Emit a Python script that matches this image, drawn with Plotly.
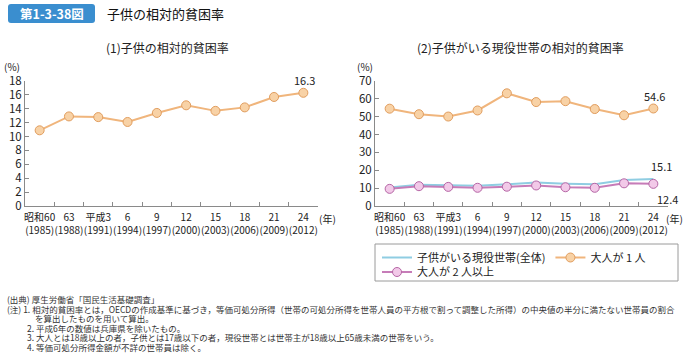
import plotly.graph_objects as go

W, H = 683, 357
FONT = "Noto Sans CJK JP"

# ---- data ----
era_labels = ["昭和60", "63", "平成3", "6", "9", "12", "15", "18", "21", "24"]
years = ["1985", "1988", "1991", "1994", "1997", "2000", "2003", "2006", "2009", "2012"]
child_poverty = [10.9, 12.9, 12.8, 12.1, 13.4, 14.5, 13.7, 14.2, 15.7, 16.3]
households_total = [10.3, 11.9, 11.6, 11.3, 12.2, 13.1, 12.5, 12.2, 14.6, 15.1]
one_adult = [54.5, 51.4, 50.1, 53.5, 63.1, 58.2, 58.7, 54.3, 50.8, 54.6]
two_plus_adults = [9.6, 11.1, 10.7, 10.2, 10.8, 11.5, 10.5, 10.2, 12.7, 12.4]

cats = [f"{e}<br>({y})" for e, y in zip(era_labels, years)]


def fx(px):
    return px / W


def fy(py):
    return 1 - py / H


ORANGE_LINE = "#f0b57c"
ORANGE_FILL = "#f8d2a6"
ORANGE_EDGE = "#e19d5e"
PINK_LINE = "#c67cb8"
PINK_FILL = "#f2c9e8"
PINK_EDGE = "#b565a5"
BLUE_LINE = "#8fcde2"
AXIS = "#8a8a8a"

fig = go.Figure()

fig.add_trace(go.Scatter(
    x=cats, y=child_poverty, mode="lines+markers", xaxis="x", yaxis="y",
    line=dict(color=ORANGE_LINE, width=2),
    marker=dict(size=9, color=ORANGE_FILL, line=dict(color=ORANGE_EDGE, width=1)),
    showlegend=False, name="子供の相対的貧困率"))

fig.add_trace(go.Scatter(
    x=cats, y=households_total, mode="lines", xaxis="x2", yaxis="y2",
    line=dict(color=BLUE_LINE, width=2), name="子供がいる現役世帯(全体)",
    legend="legend"))
fig.add_trace(go.Scatter(
    x=cats, y=one_adult, mode="lines+markers", xaxis="x2", yaxis="y2",
    line=dict(color=ORANGE_LINE, width=2),
    marker=dict(size=9, color=ORANGE_FILL, line=dict(color=ORANGE_EDGE, width=1)),
    name="大人が 1 人", legend="legend"))
fig.add_trace(go.Scatter(
    x=cats, y=two_plus_adults, mode="lines+markers", xaxis="x2", yaxis="y2",
    line=dict(color=PINK_LINE, width=2),
    marker=dict(size=9, color=PINK_FILL, line=dict(color=PINK_EDGE, width=1)),
    name="大人が 2 人以上", legend="legend2"))

xcommon = dict(type="category", range=[-0.5, 9.5], tickson="boundaries",
               ticks="inside", ticklen=4, tickcolor=AXIS, showline=True,
               linecolor=AXIS, linewidth=1, showgrid=False, tickangle=0,
               automargin=False, ticklabelstandoff=2,
               tickfont=dict(size=10, color="#222"), fixedrange=True)
ycommon = dict(ticks="inside", ticklen=4, tickcolor=AXIS, showline=True,
               linecolor=AXIS, linewidth=1, showgrid=False, zeroline=False,
               automargin=False,
               tickfont=dict(size=11.5, color="#222"), fixedrange=True)

legend_common = dict(orientation="h", xanchor="left", yanchor="top",
                     font=dict(size=11, color="#222", family=FONT),
                     bgcolor="rgba(0,0,0,0)", borderwidth=0, itemwidth=30)

ydom = [fy(206), fy(81)]
fig.update_layout(
    width=W, height=H, margin=dict(l=0, r=0, t=0, b=0, autoexpand=False),
    paper_bgcolor="white", plot_bgcolor="white",
    font=dict(family=FONT, color="#222"),
    xaxis=dict(domain=[fx(25), fx(318)], anchor="y", **xcommon),
    yaxis=dict(domain=ydom, anchor="x", range=[0, 18], dtick=2, **ycommon),
    xaxis2=dict(domain=[fx(375), fx(668)], anchor="y2", **xcommon),
    yaxis2=dict(domain=ydom, anchor="x2", range=[0, 70], dtick=10, **ycommon),
    legend=dict(x=fx(377), y=fy(243), **legend_common),
    legend2=dict(x=fx(377), y=fy(257.5), **legend_common),
    showlegend=True,
)

# header badge (rounded rectangle)
x0, x1, y0, y1, r = 8, 95, 4, 23, 3
path = (f"M {fx(x0 + r)},{fy(y0)} L {fx(x1 - r)},{fy(y0)} Q {fx(x1)},{fy(y0)} {fx(x1)},{fy(y0 + r)} "
        f"L {fx(x1)},{fy(y1 - r)} Q {fx(x1)},{fy(y1)} {fx(x1 - r)},{fy(y1)} "
        f"L {fx(x0 + r)},{fy(y1)} Q {fx(x0)},{fy(y1)} {fx(x0)},{fy(y1 - r)} "
        f"L {fx(x0)},{fy(y0 + r)} Q {fx(x0)},{fy(y0)} {fx(x0 + r)},{fy(y0)} Z")
shapes = [
    dict(type="path", xref="paper", yref="paper", path=path,
         fillcolor="#3a8ecf", line=dict(width=0), layer="below"),
    dict(type="rect", xref="paper", yref="paper", x0=fx(375), x1=fx(678),
         y0=fy(281), y1=fy(244), line=dict(color="#9a9a9a", width=1)),
]
fig.update_layout(shapes=shapes)

ann = []


def text(px, py, t, size, anchor="center", color="#222", bold=False):
    ann.append(dict(xref="paper", yref="paper", x=fx(px), y=fy(py), text=f"<b>{t}</b>" if bold else t,
                    showarrow=False, xanchor=anchor, yanchor="middle",
                    font=dict(size=size, color=color, family=FONT)))


text(51.5, 13.5, "第1-3-38図", 12.5, color="white", bold=True)
text(105, 13.5, "子供の相対的貧困率", 13, anchor="left", color="#111")
text(167, 48, "(1)子供の相対的貧困率", 12)
text(520, 48, "(2)子供がいる現役世帯の相対的貧困率", 12)
text(12, 66, "(%)", 10)
text(365, 66, "(%)", 10)
text(327, 218, "(年)", 10)
text(674, 218, "(年)", 10)


# data labels
def dlabel(xr, yr, xv, yv, xs, ys):
    ann.append(dict(xref=xr, yref=yr, x=xv, y=yv, text=f"{yv}", showarrow=False,
                    xshift=xs, yshift=ys, font=dict(size=11, color="#222", family=FONT)))


dlabel("x", "y", cats[-1], child_poverty[-1], 1, 13)
dlabel("x2", "y2", cats[-1], one_adult[-1], 1, 12)
dlabel("x2", "y2", cats[-1], households_total[-1], 8, 13)
dlabel("x2", "y2", cats[-1], two_plus_adults[-1], 14, -15)

# footnotes
fs = 8.5
notes = [
    (5, 299, "(出典) 厚生労働省「国民生活基礎調査」"),
    (5, 309, "(注) 1. 相対的貧困率とは，OECDの作成基準に基づき，等価可処分所得（世帯の可処分所得を世帯人員の平方根で割って調整した所得）の中央値の半分に満たない世帯員の割合"),
    (33, 318, "を算出したものを用いて算出。"),
    (25, 328, "2. 平成6年の数値は兵庫県を除いたもの。"),
    (25, 337, "3. 大人とは18歳以上の者，子供とは17歳以下の者，現役世帯とは世帯主が18歳以上65歳未満の世帯をいう。"),
    (25, 347, "4. 等価可処分所得金額が不詳の世帯員は除く。"),
]
for px, py, t in notes:
    text(px, py, t, fs, anchor="left", color="#333")

fig.update_layout(annotations=ann)
fig.write_html(
    "out.html",
    config={"displayModeBar": False},
    post_script="document.body.style.margin='0';document.body.style.overflow='hidden';",
)
